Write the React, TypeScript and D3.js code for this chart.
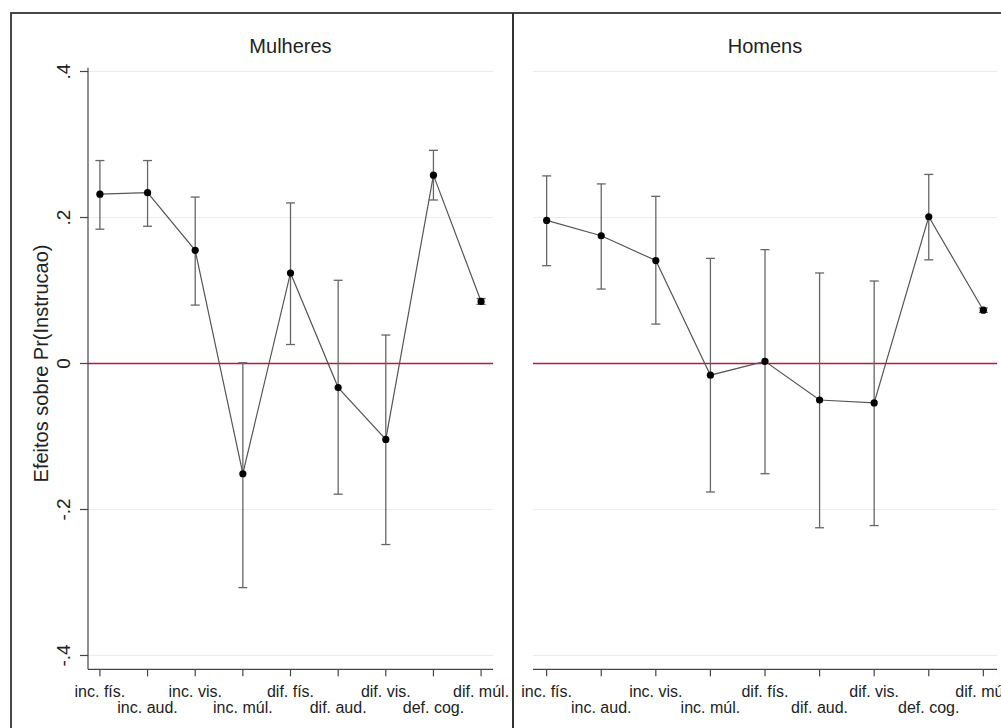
import React from "react";
import * as d3 from "d3";

const categories = ["inc. fís.", "inc. aud.", "inc. vis.", "inc. múl.", "dif. fís.", "dif. aud.", "dif. vis.", "def. cog.", "dif. múl."];

const womenEst = [0.232, 0.234, 0.155, -0.151, 0.124, -0.033, -0.104, 0.258, 0.085];
const womenLo = [0.184, 0.188, 0.080, -0.307, 0.026, -0.179, -0.248, 0.224, 0.081];
const womenHi = [0.278, 0.278, 0.228, 0.001, 0.220, 0.114, 0.039, 0.292, 0.089];

const menEst = [0.196, 0.175, 0.141, -0.016, 0.003, -0.050, -0.054, 0.201, 0.073];
const menLo = [0.134, 0.102, 0.054, -0.176, -0.151, -0.225, -0.222, 0.142, 0.070];
const menHi = [0.257, 0.246, 0.229, 0.144, 0.156, 0.124, 0.113, 0.259, 0.076];

const yTicks = [0.4, 0.2, 0, -0.2, -0.4];
const yTickLabels = [".4", ".2", "0", "-.2", "-.4"];
const panelTitles = ["Mulheres", "Homens"];
const yLabel = "Efeitos sobre Pr(Instrucao)";

const FONT = "Arial, 'Liberation Sans', Helvetica, sans-serif";

type PanelProps = {
  title: string;
  est: number[];
  lo: number[];
  hi: number[];
  x0: number;
  x1: number;
  y: d3.ScaleLinear<number, number>;
  showYAxis: boolean;
};

function Panel({ title, est, lo, hi, x0, x1, y, showYAxis }: PanelProps) {
  const x = d3.scalePoint<string>().domain(categories).range([x0, x1]).padding(0.25);
  const axisY = y(-0.419);
  const topY = y(0.405);
  const line = d3
    .line<number>()
    .x((_, i) => x(categories[i]) as number)
    .y((d) => y(d));
  const cap = 4.5;
  return (
    <g>
      <text x={(x0 + x1) / 2} y={53} textAnchor="middle" fontSize={20} fill="#222" fontFamily={FONT}>
        {title}
      </text>
      {yTicks
        .filter((t) => t !== 0)
        .map((t) => (
          <line key={t} x1={x0} x2={x1} y1={y(t)} y2={y(t)} stroke="#ececec" strokeWidth={1.2} />
        ))}
      <line x1={x0} x2={x1} y1={y(0)} y2={y(0)} stroke="#c0143c" strokeWidth={1.6} />
      {showYAxis && (
        <g>
          <line x1={x0} x2={x0} y1={topY} y2={axisY} stroke="#444" strokeWidth={1.2} />
          {yTicks.map((t, i) => (
            <g key={t}>
              <line x1={x0 - 8} x2={x0} y1={y(t)} y2={y(t)} stroke="#444" strokeWidth={1.2} />
              <text
                transform={`translate(${x0 - 18},${y(t)}) rotate(-90)`}
                textAnchor="middle"
                fontSize={19}
                fill="#222"
                fontFamily={FONT}
              >
                {yTickLabels[i]}
              </text>
            </g>
          ))}
        </g>
      )}
      <line x1={x0} x2={x1} y1={axisY} y2={axisY} stroke="#444" strokeWidth={1.2} />
      {categories.map((c, i) => (
        <g key={c}>
          <line x1={x(c)} x2={x(c)} y1={axisY} y2={axisY + 7} stroke="#444" strokeWidth={1.2} />
          <text
            x={x(c)}
            y={axisY + (i % 2 === 0 ? 28 : 44)}
            textAnchor="middle"
            fontSize={16}
            fill="#222"
            fontFamily={FONT}
          >
            {c}
          </text>
        </g>
      ))}
      {categories.map((c, i) => {
        const cx = x(c) as number;
        return (
          <g key={"ci" + c} stroke="#666" strokeWidth={1.3}>
            <line x1={cx} x2={cx} y1={y(lo[i])} y2={y(hi[i])} />
            <line x1={cx - cap} x2={cx + cap} y1={y(lo[i])} y2={y(lo[i])} />
            <line x1={cx - cap} x2={cx + cap} y1={y(hi[i])} y2={y(hi[i])} />
          </g>
        );
      })}
      <path d={line(est) || ""} fill="none" stroke="#555" strokeWidth={1.2} />
      {categories.map((c, i) => (
        <circle key={"p" + c} cx={x(c)} cy={y(est[i])} r={3.6} fill="#000" />
      ))}
    </g>
  );
}

export default function App() {
  const width = 1001;
  const height = 728;
  const y = d3.scaleLinear().domain([-0.4, 0.4]).range([655.5, 71.5]);
  return (
    <svg
      width={width}
      height={height}
      style={{ position: "absolute", left: 0, top: 0, background: "#fff", overflow: "hidden" }}
    >
      <rect x={0} y={0} width={width} height={height} fill="#fff" />
      <rect x={11} y={13} width={1200} height={900} fill="none" stroke="#333" strokeWidth={1.8} />
      <line x1={513} x2={513} y1={13} y2={height + 10} stroke="#333" strokeWidth={2} />
      <text
        transform={`translate(48,${y(0)}) rotate(-90)`}
        textAnchor="middle"
        fontSize={20}
        fill="#222"
        fontFamily={FONT}
      >
        {yLabel}
      </text>
      <Panel title={panelTitles[0]} est={womenEst} lo={womenLo} hi={womenHi} x0={88} x1={493} y={y} showYAxis={true} />
      <Panel title={panelTitles[1]} est={menEst} lo={menLo} hi={menHi} x0={533} x1={997} y={y} showYAxis={false} />
    </svg>
  );
}
